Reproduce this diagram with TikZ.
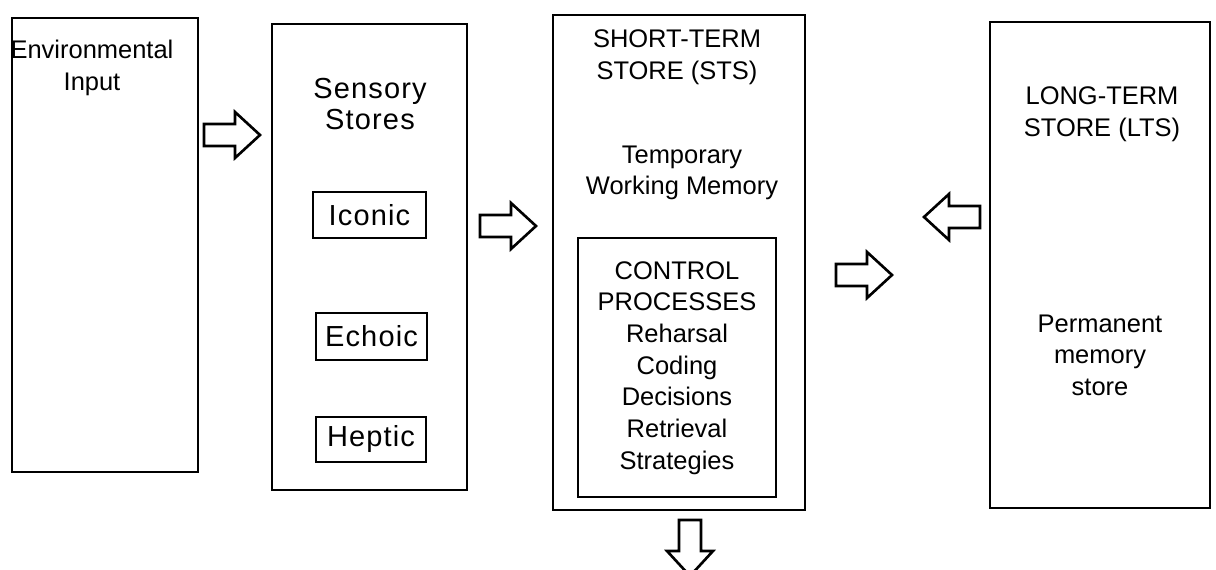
\documentclass[tikz,border=0pt]{standalone}
\usepackage{fontspec}
\setmainfont{Liberation Sans}
\newfontfamily\widefont[LetterSpace=4]{Liberation Sans}
\usetikzlibrary{fit}

\tikzset{
  store/.style={draw, line width=1.5pt, inner sep=0pt},
  substore/.style={draw, line width=1.2pt, inner sep=0pt},
  txt/.style={align=center, inner sep=0pt, font=\fontsize{14.5}{18}\selectfont},
  widetxt/.style={align=center, inner sep=0pt, font=\widefont\fontsize{16.5}{18}\selectfont},
  fatarrow/.pic={
    \draw[line width=1.5pt, line join=miter]
      (-28,-11) -- (3,-11) -- (3,-23) -- (28,0) -- (3,23) -- (3,11) -- (-28,11) -- cycle;
  }
}

\begin{document}
\begin{tikzpicture}[x=0.02cm,y=-0.02cm]
  \useasboundingbox (0,0) rectangle (1216,570);

  \node[store, fit={(12,18) (198,472)}] (env) {};
  \node[txt] (envtxt) at (92,68) {Environmental\\Input};

  \node[store, fit={(272,24) (467,490)}] (sens) {};
  \node[widetxt] (senstxt) at (370,104) {Sensory\\Stores};
  \node[substore, fit={(313,192) (426,238)}] (iconic) {};
  \node[widetxt] at (iconic) {Iconic};
  \node[substore, fit={(316,313) (427,360)}] (echoic) {};
  \node[widetxt] at (echoic) {Echoic};
  \node[substore, fit={(316,417) (426,462)}] (heptic) {};
  \node[widetxt] at (heptic) {Heptic};

  \node[store, fit={(553,15) (805,510)}] (sts) {};
  \node[txt] (ststxt) at (677,57) {SHORT-TERM\\STORE (STS)};
  \node[txt] (worktxt) at (682,173) {Temporary\\Working Memory};
  \node[substore, fit={(578,238) (776,497)}] (ctrl) {};
  \node[txt] (ctrltxt) at (677,368) {CONTROL\\PROCESSES\\Reharsal\\Coding\\Decisions\\Retrieval\\Strategies};

  \node[store, fit={(990,22) (1210,508)}] (lts) {};
  \node[txt] (ltstxt) at (1102,114) {LONG-TERM\\STORE (LTS)};
  \node[txt] (permtxt) at (1100,355) {Permanent\\memory\\store};

  \pic at (232,135) {fatarrow};
  \pic at (508,226) {fatarrow};
  \pic at (864,275) {fatarrow};
  \pic[rotate=180] at (952,217) {fatarrow};
  \pic[rotate=-90] at (690,548) {fatarrow};
\end{tikzpicture}
\end{document}
